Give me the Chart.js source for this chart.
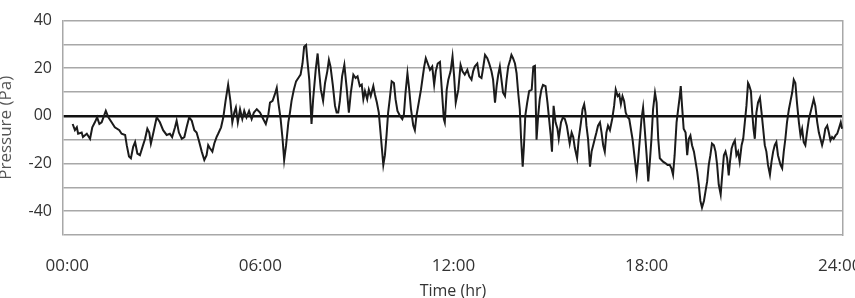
<!DOCTYPE html>
<html>
<head>
<meta charset="utf-8">
<script src="https://cdn.jsdelivr.net/npm/chart.js@4"></script>
<style>
  html, body { margin: 0; padding: 0; background: #fff; overflow: hidden; }
  #wrap { position: absolute; left: -6px; top: 0; width: 861px; height: 306px; }
</style>
</head>
<body>
<div id="wrap"><canvas id="chart"></canvas></div>
<script>
// time of day in hours
const hours = [
  0.17, 0.24, 0.30, 0.34, 0.45, 0.49, 0.61, 0.71, 0.78, 0.86, 0.93, 1.00, 1.07, 1.20, 1.28, 1.38, 1.48, 1.62, 1.69, 1.80,
  1.85, 1.92, 1.98, 2.05, 2.11, 2.18, 2.26, 2.34, 2.42, 2.49, 2.55, 2.60, 2.67, 2.78, 2.88, 2.98, 3.09, 3.19, 3.26, 3.35,
  3.40, 3.47, 3.56, 3.64, 3.71, 3.79, 3.87, 3.95, 4.02, 4.09, 4.18, 4.26, 4.33, 4.38, 4.43, 4.51, 4.57, 4.64, 4.69, 4.78,
  4.85, 4.92, 5.00, 5.07, 5.13, 5.19, 5.24, 5.30, 5.37, 5.44, 5.50, 5.57, 5.65, 5.73, 5.80, 5.89, 5.99, 6.09, 6.17, 6.25,
  6.30, 6.38, 6.45, 6.51, 6.56, 6.63, 6.69, 6.74, 6.80, 6.87, 6.92, 6.97, 7.04, 7.11, 7.18, 7.25, 7.31, 7.36, 7.42, 7.46,
  7.52, 7.59, 7.64, 7.72, 7.78, 7.83, 7.88, 7.95, 8.01, 8.08, 8.13, 8.18, 8.25, 8.32, 8.37, 8.42, 8.47, 8.54, 8.61, 8.68,
  8.75, 8.81, 8.89, 8.96, 9.02, 9.09, 9.15, 9.20, 9.25, 9.32, 9.37, 9.43, 9.51, 9.56, 9.62, 9.68, 9.75, 9.82, 9.87, 9.92,
  9.97, 10.02, 10.08, 10.15, 10.20, 10.26, 10.34, 10.41, 10.46, 10.51, 10.57, 10.62, 10.68, 10.75, 10.80, 10.85, 10.93, 10.99, 11.04, 11.09,
  11.14, 11.20, 11.27, 11.34, 11.40, 11.45, 11.51, 11.58, 11.63, 11.70, 11.73, 11.79, 11.84, 11.91, 11.97, 12.02, 12.07, 12.15, 12.22, 12.28,
  12.35, 12.43, 12.49, 12.56, 12.61, 12.66, 12.74, 12.80, 12.87, 12.92, 12.98, 13.05, 13.11, 13.18, 13.23, 13.29, 13.34, 13.39, 13.44, 13.49,
  13.54, 13.60, 13.65, 13.70, 13.76, 13.80, 13.85, 13.91, 13.96, 14.01, 14.06, 14.10, 14.15, 14.19, 14.23, 14.29, 14.35, 14.43, 14.48, 14.53,
  14.58, 14.63, 14.68, 14.73, 14.78, 14.86, 14.92, 14.97, 15.02, 15.06, 15.11, 15.17, 15.23, 15.27, 15.34, 15.40, 15.46, 15.52, 15.56, 15.61,
  15.67, 15.72, 15.77, 15.84, 15.89, 15.96, 16.01, 16.06, 16.10, 16.13, 16.18, 16.24, 16.29, 16.34, 16.39, 16.44, 16.49, 16.55, 16.60, 16.65,
  16.70, 16.75, 16.80, 16.86, 16.93, 16.99, 17.04, 17.10, 17.15, 17.20, 17.25, 17.30, 17.35, 17.41, 17.46, 17.56, 17.63, 17.69, 17.74, 17.79,
  17.84, 17.89, 17.94, 18.00, 18.05, 18.10, 18.15, 18.20, 18.26, 18.31, 18.36, 18.41, 18.46, 18.51, 18.59, 18.65, 18.72, 18.77, 18.82, 18.87,
  18.93, 18.98, 19.03, 19.06, 19.10, 19.15, 19.21, 19.26, 19.31, 19.36, 19.41, 19.47, 19.52, 19.57, 19.62, 19.67, 19.72, 19.78, 19.83, 19.88,
  19.93, 19.98, 20.03, 20.09, 20.14, 20.19, 20.24, 20.30, 20.34, 20.40, 20.45, 20.50, 20.55, 20.59, 20.64, 20.69, 20.74, 20.79, 20.84, 20.89,
  20.95, 21.00, 21.05, 21.10, 21.15, 21.18, 21.24, 21.28, 21.32, 21.36, 21.41, 21.46, 21.52, 21.57, 21.62, 21.67, 21.72, 21.77, 21.83, 21.88,
  21.93, 21.98, 22.03, 22.08, 22.16, 22.21, 22.26, 22.31, 22.36, 22.42, 22.47, 22.52, 22.57, 22.62, 22.67, 22.73, 22.78, 22.83, 22.88, 22.93,
  22.98, 23.04, 23.09, 23.14, 23.19, 23.24, 23.30, 23.35, 23.40, 23.45, 23.50, 23.55, 23.61, 23.66, 23.71, 23.76, 23.81, 23.87, 23.92, 23.97,
  24.03, 24.07
];

// pressure in Pa at those times
const pressure = [
  -3.4, -6, -4.8, -7.5, -7, -8.9, -7.5, -9.6, -4.8, -2.7, -0.6, -3.4, -2.7, 2.1, -0.6, -2.7, -4.8, -6, -7.5, -8,
  -12.3, -17, -17.8, -13, -11, -15.8, -16.5, -13, -9.6, -5.4, -7, -11.6, -7.5, -0.6, -2.7, -6, -8, -7.5, -8.9, -4.8,
  -2, -7, -9.6, -8.9, -4.8, -0.6, -2, -6, -7, -10.3, -15, -18.5, -16.5, -12.3, -13.5, -15, -11.6, -8.9, -7.5, -4.8,
  -0.6, 6.3, 13.1, 6.3, -2.7, 1.4, 3.5, -2.7, 2.8, -1.3, 2.1, -0.6, 2.1, -1.3, 1.4, 2.8, 1.4, -1.3, -3.4, 0.7,
  5.6, 6.3, 9, 11.8, 5.6, -1.3, -9.6, -18.5, -12.3, -2.7, 1.4, 6.3, 11, 14.5, 15.9, 17.3, 22, 29, 29.7, 23.5,
  15.2, -3.4, 7, 19.3, 26.2, 18, 11, 6.3, 13.8, 18.7, 23.5, 20.7, 13.1, 4.2, 1.4, 1.4, 6.3, 16.6, 21.4, 12,
  1.4, 9.7, 17.3, 15.9, 16.6, 12.5, 13.1, 7, 10.4, 7, 11, 8.3, 12.5, 9, 5.6, 1.4, -9.6, -20.6, -16.5, -8.2,
  1.4, 7, 14.5, 13.8, 7, 2.1, 0, -1.3, 0.7, 9.7, 17.9, 11.8, 2.8, -4, -6, 0, 6.3, 11, 15.9, 20.7,
  24.2, 22, 19.3, 20.7, 13.1, 18.7, 22, 22.7, 12.5, -1.3, -2.7, 11, 15.2, 18.7, 24.9, 16.6, 5.6, 11, 21.4, 18.7,
  17.3, 19.3, 16.6, 15.2, 18.7, 20.7, 22, 16.6, 15.9, 20, 25.6, 24.2, 22, 18.7, 15.2, 5.6, 12.5, 17.3, 20.7, 15.2,
  9.7, 8.3, 15.2, 20.7, 23.5, 25.6, 24.2, 22, 17.9, 9.7, 2.8, -9.6, -21.3, -12.3, 0, 5.6, 10.4, 11, 20.7, 21,
  -10, 0, 7, 11, 13, 12.5, 5.6, -1.3, -8.2, -15, 4.2, -2.7, -5.4, -9.6, -2.7, -0.6, -1.3, -4.1, -7.5, -11.6,
  -7, -8.9, -13.5, -17.8, -9.6, -2.7, 2.8, 4.9, 1.4, -4.1, -9.6, -21.3, -15, -12.3, -9.6, -7, -4.1, -2.7, -7, -12.3,
  -15, -7, -4.1, -6, -1.3, 4.2, 11, 8.3, 9, 4.9, 8.3, 6.3, 1.4, -0.6, -1.3, -9.6, -17.8, -24.7, -17.8, -9.6,
  -1.3, 3.5, -5.4, -16.5, -27.5, -19.2, -9.6, 2.8, 9.7, 5.6, -9.6, -17.8, -18.5, -19.2, -19.9, -20.6, -20.6, -22, -24.7, -16.5,
  -2.7, 2.8, 8.3, 12.5, 4.2, -5.4, -7, -16.5, -9.6, -8.2, -12.3, -15, -19.2, -23.3, -28.9, -35.7, -38.5, -35.7, -31.6, -27.5,
  -20.6, -16.5, -11.6, -12.3, -15, -20.6, -28.9, -33, -26.1, -16.5, -15, -17.8, -25, -19.2, -13.7, -11.6, -10.3, -16.5, -15, -19.2,
  -12.3, -9.6, -2.7, 4.2, 13.8, 13, 10.4, 1.4, -5.4, -9.6, 1.4, 5.6, 7.6, 1.4, -5.4, -12.3, -15, -20.6, -24.7, -19.2,
  -15, -12.3, -11, -16.5, -20.6, -22, -15, -9.6, -2.7, 2.8, 6.3, 9.7, 15.2, 13.8, 5.6, -2.7, -8.2, -5.4, -11, -12.3,
  -7, -1.3, 1.4, 4.2, 7, 4.2, -2.7, -7, -9.6, -12.3, -9.6, -5.4, -4.1, -7, -10.3, -8.9, -9.6, -8.2, -7.5, -5.4,
  -2.7, -5.4
];

const xTicks = [0, 6, 12, 18, 24];
const xTickLabels = ['00:00', '06:00', '12:00', '18:00', '24:00'];

const points = hours.map((h, i) => ({ x: h, y: pressure[i] }));

new Chart(document.getElementById('chart'), {
  type: 'line',
  data: {
    datasets: [
      {
        data: points,
        borderColor: '#1b1b1b',
        borderWidth: 2,
        pointRadius: 0,
        tension: 0,
      },
    ],
  },
  options: {
    responsive: true,
    maintainAspectRatio: false,
    animation: false,
    layout: { padding: { top: 17, right: 12, bottom: 0, left: 0 } },
    plugins: { legend: { display: false }, tooltip: { enabled: false } },
    scales: {
      x: {
        type: 'linear',
        min: -0.13,
        max: 24.1,
        grid: { display: false },
        border: { display: false },
        afterBuildTicks: (scale) => {
          scale.ticks = xTicks.map((v) => ({ value: v }));
        },
        afterFit: (scale) => {
          scale.height = 71;
          scale.paddingLeft = 0;
          scale.paddingRight = 0;
        },
        ticks: {
          padding: 13,
          maxRotation: 0,
          color: '#333',
          font: { size: 17, family: 'Open Sans' },
          callback: (value) => xTickLabels[xTicks.indexOf(value)],
        },
        title: {
          display: true,
          text: 'Time (hr)',
          color: '#333',
          padding: { top: 0, bottom: 5 },
          font: { size: 16, family: 'Open Sans' },
        },
      },
      y: {
        min: -50,
        max: 40,
        grid: {
          drawTicks: false,
          color: (ctx) => (ctx.tick.value === 0 ? '#111' : '#a8a8a8'),
          lineWidth: (ctx) => (ctx.tick.value === 0 ? 2.5 : 1.5),
        },
        border: { color: '#a8a8a8', width: 1.5 },
        afterFit: (scale) => {
          scale.width = 69;
        },
        ticks: {
          stepSize: 10,
          padding: 11,
          color: '#333',
          font: { size: 16, family: 'Open Sans' },
          callback: (value) => (value % 20 !== 0 ? '' : value === 0 ? '00' : String(value)),
        },
        title: {
          display: true,
          text: 'Pressure (Pa)',
          color: '#555',
          padding: { top: 2, bottom: 0 },
          font: { size: 17, family: 'Open Sans' },
        },
      },
      y2: {
        position: 'right',
        min: -50,
        max: 40,
        grid: { display: false },
        ticks: { display: false },
        border: { color: '#a8a8a8', width: 1.5 },
        afterFit: (scale) => {
          scale.width = 0;
        },
      },
    },
  },
});
</script>
</body>
</html>
